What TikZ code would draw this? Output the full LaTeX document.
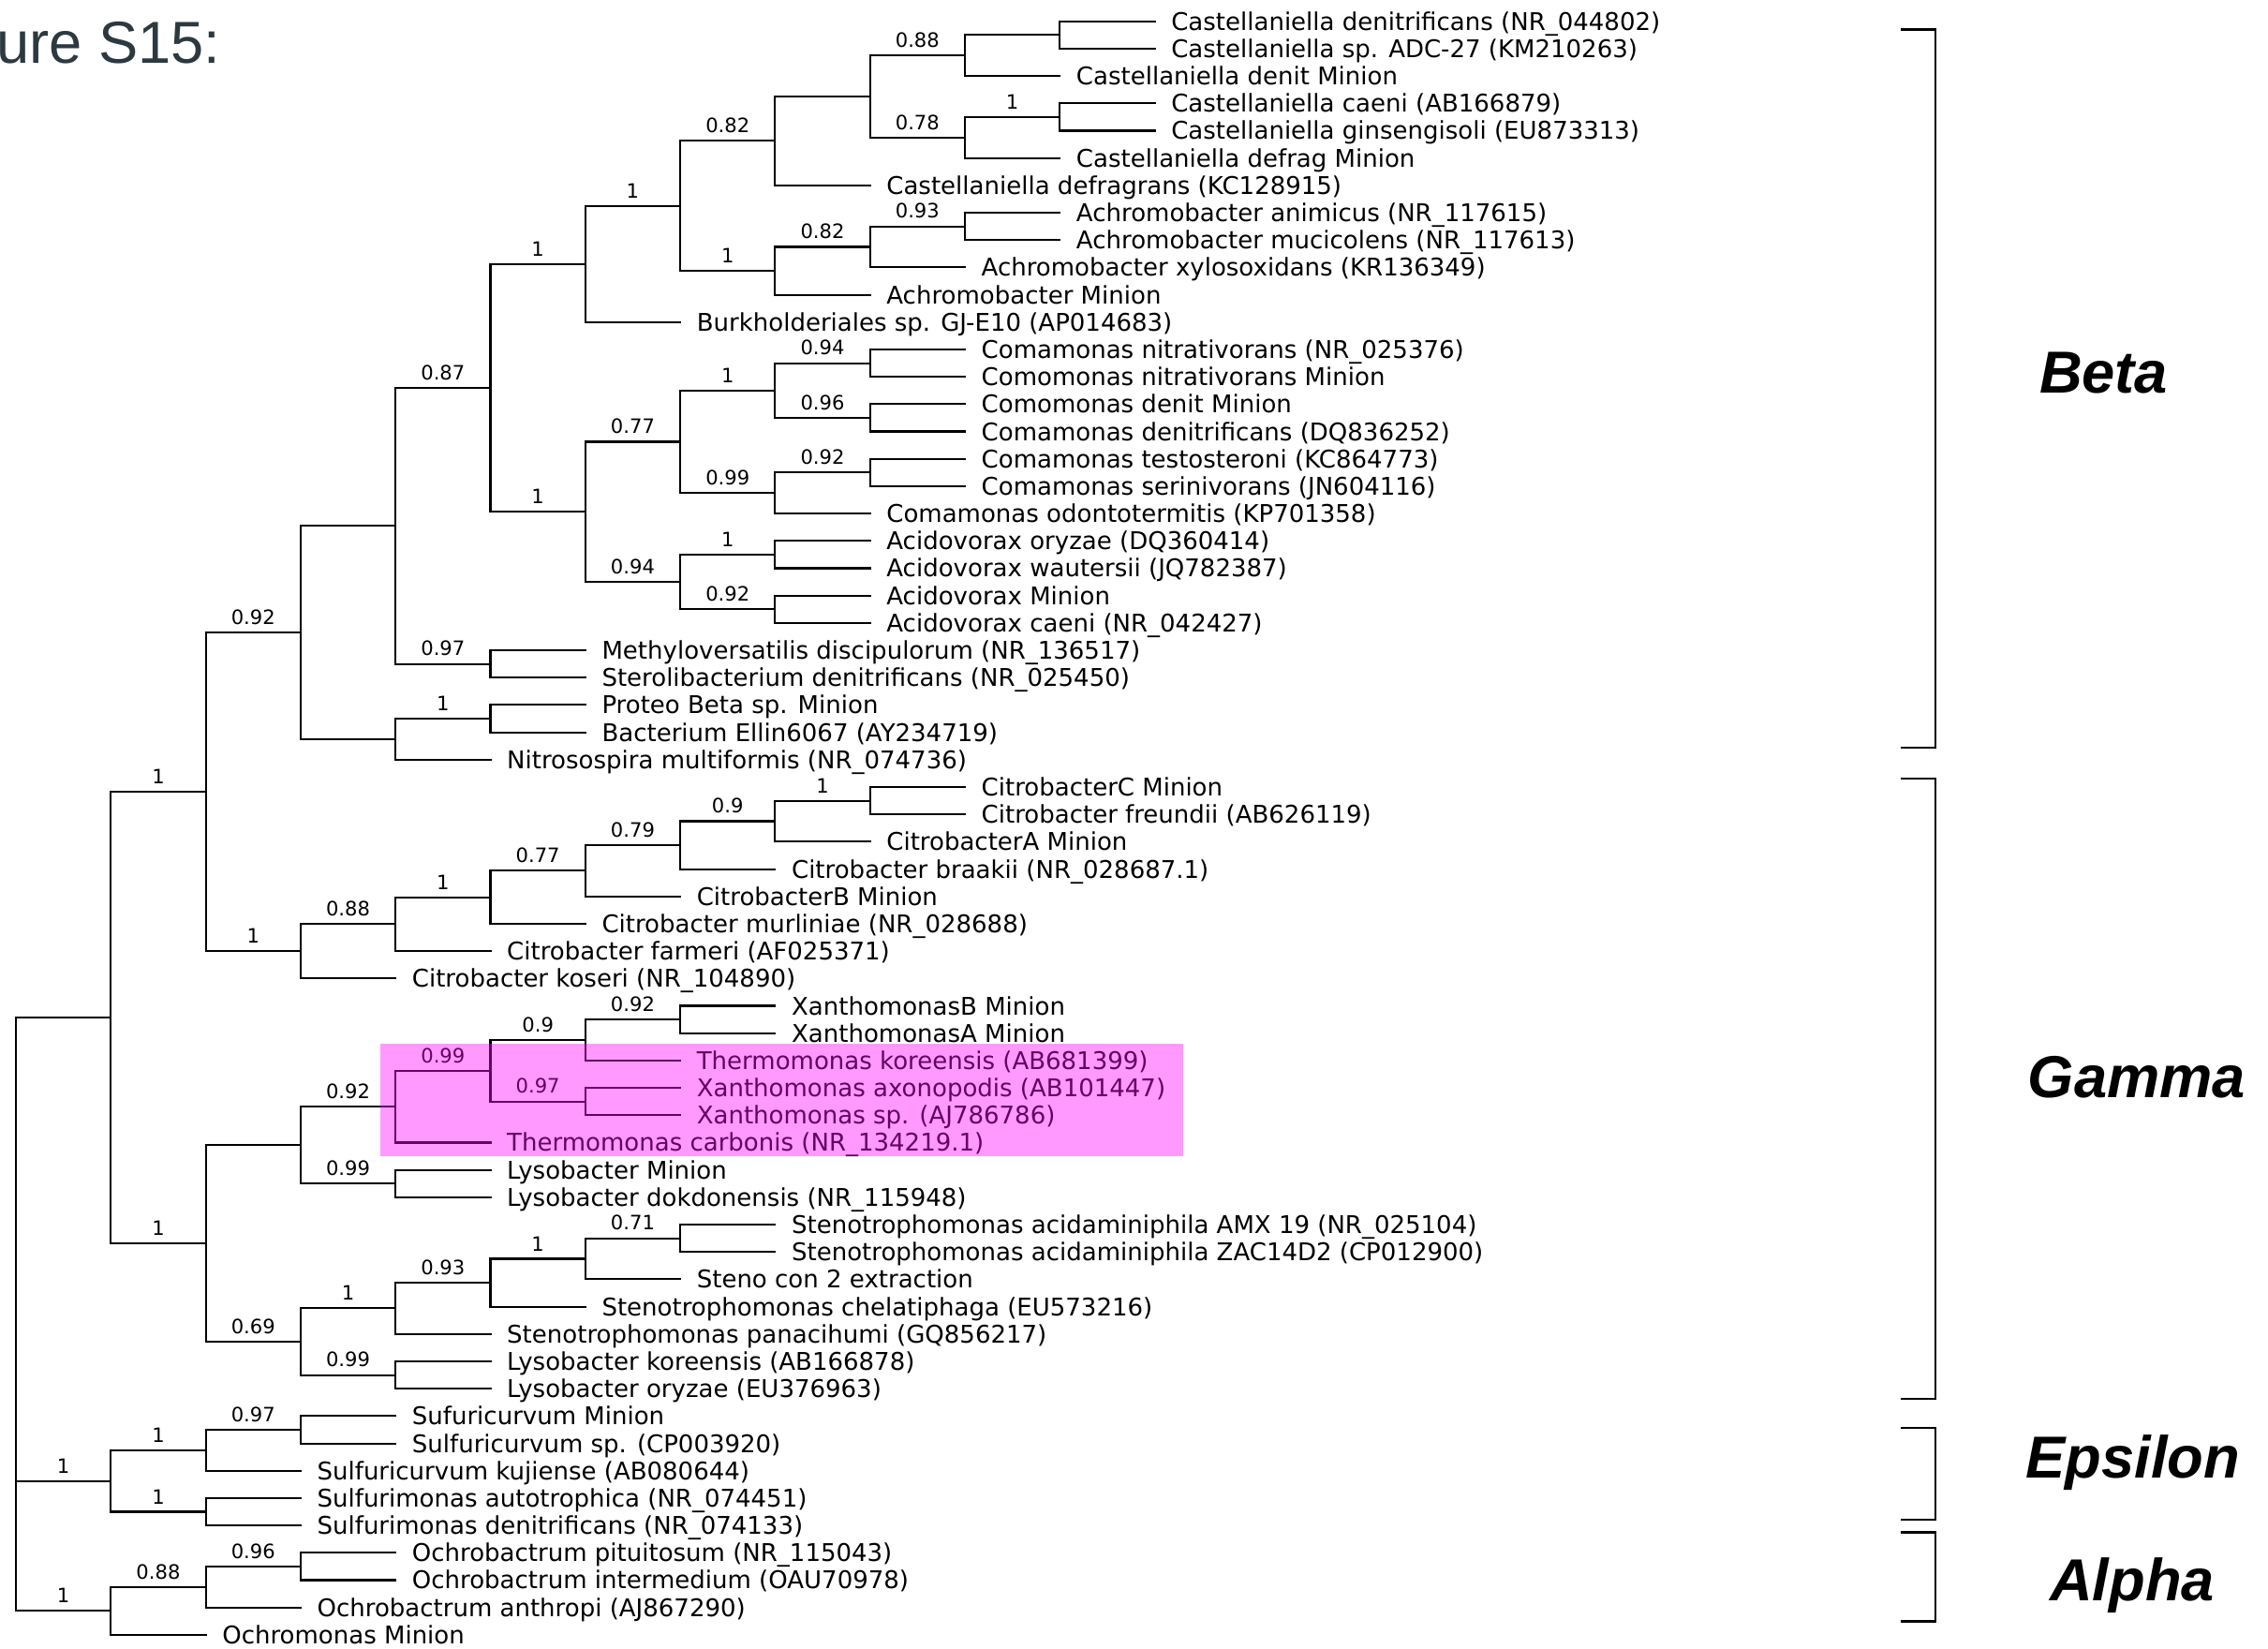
\documentclass[tikz,border=0pt]{standalone}
\usepackage{fontspec}
\setmainfont{Liberation Sans}
\newfontfamily\leaffont{DejaVu Sans}
\usepackage{xcolor}
\definecolor{titlegrey}{RGB}{45,57,64}
\definecolor{hilite}{RGB}{255,0,255}
\tikzset{
  leaf/.style={anchor=west, inner xsep=0.17cm, inner ysep=0pt, text height=5.4pt, text depth=0pt,
    font=\leaffont\fontsize{7.4}{8}\selectfont},
  bsl/.style={above=2.1pt, inner sep=0pt, font=\leaffont\fontsize{6}{7}\selectfont},
  branch/.style={draw, line width=0.6pt, line cap=rect},
  bracket/.style={draw, line width=0.8pt},
  clade/.style={anchor=base, inner sep=0pt, font=\bfseries\itshape\fontsize{18}{20}\selectfont}
}
\begin{document}
\begin{tikzpicture}[x=1.013cm, y=-0.2919cm]
          \useasboundingbox (-0.168,0.222) rectangle (23.732,60.517);
          \node[anchor=base east, inner sep=0pt, text=titlegrey, font=\fontsize{18}{20}\selectfont] (fig) at (2.162,2.55) {ure S15:};
          \begin{scope}[every node/.style={leaf}]
            \node (t1) at (12,1) {Castellaniella denitrificans (NR\_044802)};
            \node (t2) at (12,2) {Castellaniella sp. ADC-27 (KM210263)};
            \node (t3) at (11,3) {Castellaniella denit Minion};
            \node (t4) at (12,4) {Castellaniella caeni (AB166879)};
            \node (t5) at (12,5) {Castellaniella ginsengisoli (EU873313)};
            \node (t6) at (11,6) {Castellaniella defrag Minion};
            \node (t7) at (9,7) {Castellaniella defragrans (KC128915)};
            \node (t8) at (11,8) {Achromobacter animicus (NR\_117615)};
            \node (t9) at (11,9) {Achromobacter mucicolens (NR\_117613)};
            \node (t10) at (10,10) {Achromobacter xylosoxidans (KR136349)};
            \node (t11) at (9,11) {Achromobacter Minion};
            \node (t12) at (7,12) {Burkholderiales sp. GJ-E10 (AP014683)};
            \node (t13) at (10,13) {Comamonas nitrativorans (NR\_025376)};
            \node (t14) at (10,14) {Comomonas nitrativorans Minion};
            \node (t15) at (10,15) {Comomonas denit Minion};
            \node (t16) at (10,16) {Comamonas denitrificans (DQ836252)};
            \node (t17) at (10,17) {Comamonas testosteroni (KC864773)};
            \node (t18) at (10,18) {Comamonas serinivorans (JN604116)};
            \node (t19) at (9,19) {Comamonas odontotermitis (KP701358)};
            \node (t20) at (9,20) {Acidovorax oryzae (DQ360414)};
            \node (t21) at (9,21) {Acidovorax wautersii (JQ782387)};
            \node (t22) at (9,22) {Acidovorax Minion};
            \node (t23) at (9,23) {Acidovorax caeni (NR\_042427)};
            \node (t24) at (6,24) {Methyloversatilis discipulorum (NR\_136517)};
            \node (t25) at (6,25) {Sterolibacterium denitrificans (NR\_025450)};
            \node (t26) at (6,26) {Proteo Beta sp. Minion};
            \node (t27) at (6,27) {Bacterium Ellin6067 (AY234719)};
            \node (t28) at (5,28) {Nitrosospira multiformis (NR\_074736)};
            \node (t29) at (10,29) {CitrobacterC Minion};
            \node (t30) at (10,30) {Citrobacter freundii (AB626119)};
            \node (t31) at (9,31) {CitrobacterA Minion};
            \node (t32) at (8,32) {Citrobacter braakii (NR\_028687.1)};
            \node (t33) at (7,33) {CitrobacterB Minion};
            \node (t34) at (6,34) {Citrobacter murliniae (NR\_028688)};
            \node (t35) at (5,35) {Citrobacter farmeri (AF025371)};
            \node (t36) at (4,36) {Citrobacter koseri (NR\_104890)};
            \node (t37) at (8,37) {XanthomonasB Minion};
            \node (t38) at (8,38) {XanthomonasA Minion};
            \node (t39) at (7,39) {Thermomonas koreensis (AB681399)};
            \node (t40) at (7,40) {Xanthomonas axonopodis (AB101447)};
            \node (t41) at (7,41) {Xanthomonas sp. (AJ786786)};
            \node (t42) at (5,42) {Thermomonas carbonis (NR\_134219.1)};
            \node (t43) at (5,43) {Lysobacter Minion};
            \node (t44) at (5,44) {Lysobacter dokdonensis (NR\_115948)};
            \node (t45) at (8,45) {Stenotrophomonas acidaminiphila AMX 19 (NR\_025104)};
            \node (t46) at (8,46) {Stenotrophomonas acidaminiphila ZAC14D2 (CP012900)};
            \node (t47) at (7,47) {Steno con 2 extraction};
            \node (t48) at (6,48) {Stenotrophomonas chelatiphaga (EU573216)};
            \node (t49) at (5,49) {Stenotrophomonas panacihumi (GQ856217)};
            \node (t50) at (5,50) {Lysobacter koreensis (AB166878)};
            \node (t51) at (5,51) {Lysobacter oryzae (EU376963)};
            \node (t52) at (4,52) {Sufuricurvum Minion};
            \node (t53) at (4,53) {Sulfuricurvum sp. (CP003920)};
            \node (t54) at (3,54) {Sulfuricurvum kujiense (AB080644)};
            \node (t55) at (3,55) {Sulfurimonas autotrophica (NR\_074451)};
            \node (t56) at (3,56) {Sulfurimonas denitrificans (NR\_074133)};
            \node (t57) at (4,57) {Ochrobactrum pituitosum (NR\_115043)};
            \node (t58) at (4,58) {Ochrobactrum intermedium (OAU70978)};
            \node (t59) at (3,59) {Ochrobactrum anthropi (AJ867290)};
            \node (t60) at (2,60) {Ochromonas Minion};
          \end{scope}
          \coordinate (ca1) at (11,1.5);
          \coordinate (ca2) at (10,2.25);
          \coordinate (ca4) at (11,4.5);
          \coordinate (ca5) at (10,5.25);
          \coordinate (ca3) at (9,3.75);
          \coordinate (ca6) at (8,5.375);
          \coordinate (ac1) at (10,8.5);
          \coordinate (ac2) at (9,9.25);
          \coordinate (ac3) at (8,10.125);
          \coordinate (bu1) at (7,7.75);
          \coordinate (bu2) at (6,9.875);
          \coordinate (co1) at (9,13.5);
          \coordinate (co2) at (9,15.5);
          \coordinate (co3) at (8,14.5);
          \coordinate (co4) at (9,17.5);
          \coordinate (co5) at (8,18.25);
          \coordinate (co6) at (7,16.375);
          \coordinate (av1) at (8,20.5);
          \coordinate (av2) at (8,22.5);
          \coordinate (av3) at (7,21.5);
          \coordinate (cv1) at (6,18.9375);
          \coordinate (be1) at (5,14.406);
          \coordinate (me1) at (5,24.5);
          \coordinate (be2) at (4,19.453);
          \coordinate (pb1) at (5,26.5);
          \coordinate (pb2) at (4,27.25);
          \coordinate (bet) at (3,23.352);
          \coordinate (ci1) at (9,29.5);
          \coordinate (ci2) at (8,30.25);
          \coordinate (ci3) at (7,31.125);
          \coordinate (ci4) at (6,32.0625);
          \coordinate (ci5) at (5,33.031);
          \coordinate (ci6) at (4,34.016);
          \coordinate (ci7) at (3,35.008);
          \coordinate (bg) at (2,29.18);
          \coordinate (xa1) at (7,37.5);
          \coordinate (xa2) at (6,38.25);
          \coordinate (xa3) at (6,40.5);
          \coordinate (xa4) at (5,39.375);
          \coordinate (xa5) at (4,40.6875);
          \coordinate (ly1) at (4,43.5);
          \coordinate (xl) at (3,42.094);
          \coordinate (st1) at (7,45.5);
          \coordinate (st2) at (6,46.25);
          \coordinate (st3) at (5,47.125);
          \coordinate (st4) at (4,48.0625);
          \coordinate (ly2) at (4,50.5);
          \coordinate (sl) at (3,49.281);
          \coordinate (xs) at (2,45.6875);
          \coordinate (prot) at (1,37.434);
          \coordinate (su1) at (3,52.5);
          \coordinate (su2) at (2,53.25);
          \coordinate (su3) at (2,55.5);
          \coordinate (eps) at (1,54.375);
          \coordinate (oc1) at (3,57.5);
          \coordinate (oc2) at (2,58.25);
          \coordinate (alp) at (1,59.125);
          \coordinate (root) at (0,48.28);
          \begin{scope}[every path/.style={branch}]
            \draw (ca1) |- (t1);
            \draw (ca1) |- (t2);
            \draw (ca2) |- (ca1);
            \draw (ca2) |- (t3);
            \draw (ca4) |- (t4);
            \draw (ca4) |- (t5);
            \draw (ca5) |- node[bsl, pos=0.75]{1} (ca4);
            \draw (ca5) |- (t6);
            \draw (ca3) |- node[bsl, pos=0.75]{0.88} (ca2);
            \draw (ca3) |- node[bsl, pos=0.75]{0.78} (ca5);
            \draw (ca6) |- (ca3);
            \draw (ca6) |- (t7);
            \draw (ac1) |- (t8);
            \draw (ac1) |- (t9);
            \draw (ac2) |- node[bsl, pos=0.75]{0.93} (ac1);
            \draw (ac2) |- (t10);
            \draw (ac3) |- node[bsl, pos=0.75]{0.82} (ac2);
            \draw (ac3) |- (t11);
            \draw (bu1) |- node[bsl, pos=0.75]{0.82} (ca6);
            \draw (bu1) |- node[bsl, pos=0.75]{1} (ac3);
            \draw (bu2) |- node[bsl, pos=0.75]{1} (bu1);
            \draw (bu2) |- (t12);
            \draw (co1) |- (t13);
            \draw (co1) |- (t14);
            \draw (co2) |- (t15);
            \draw (co2) |- (t16);
            \draw (co3) |- node[bsl, pos=0.75]{0.94} (co1);
            \draw (co3) |- node[bsl, pos=0.75]{0.96} (co2);
            \draw (co4) |- (t17);
            \draw (co4) |- (t18);
            \draw (co5) |- node[bsl, pos=0.75]{0.92} (co4);
            \draw (co5) |- (t19);
            \draw (co6) |- node[bsl, pos=0.75]{1} (co3);
            \draw (co6) |- node[bsl, pos=0.75]{0.99} (co5);
            \draw (av1) |- (t20);
            \draw (av1) |- (t21);
            \draw (av2) |- (t22);
            \draw (av2) |- (t23);
            \draw (av3) |- node[bsl, pos=0.75]{1} (av1);
            \draw (av3) |- node[bsl, pos=0.75]{0.92} (av2);
            \draw (cv1) |- node[bsl, pos=0.75]{0.77} (co6);
            \draw (cv1) |- node[bsl, pos=0.75]{0.94} (av3);
            \draw (be1) |- node[bsl, pos=0.75]{1} (bu2);
            \draw (be1) |- node[bsl, pos=0.75]{1} (cv1);
            \draw (me1) |- (t24);
            \draw (me1) |- (t25);
            \draw (be2) |- node[bsl, pos=0.75]{0.87} (be1);
            \draw (be2) |- node[bsl, pos=0.75]{0.97} (me1);
            \draw (pb1) |- (t26);
            \draw (pb1) |- (t27);
            \draw (pb2) |- node[bsl, pos=0.75]{1} (pb1);
            \draw (pb2) |- (t28);
            \draw (bet) |- (be2);
            \draw (bet) |- (pb2);
            \draw (ci1) |- (t29);
            \draw (ci1) |- (t30);
            \draw (ci2) |- node[bsl, pos=0.75]{1} (ci1);
            \draw (ci2) |- (t31);
            \draw (ci3) |- node[bsl, pos=0.75]{0.9} (ci2);
            \draw (ci3) |- (t32);
            \draw (ci4) |- node[bsl, pos=0.75]{0.79} (ci3);
            \draw (ci4) |- (t33);
            \draw (ci5) |- node[bsl, pos=0.75]{0.77} (ci4);
            \draw (ci5) |- (t34);
            \draw (ci6) |- node[bsl, pos=0.75]{1} (ci5);
            \draw (ci6) |- (t35);
            \draw (ci7) |- node[bsl, pos=0.75]{0.88} (ci6);
            \draw (ci7) |- (t36);
            \draw (bg) |- node[bsl, pos=0.75]{0.92} (bet);
            \draw (bg) |- node[bsl, pos=0.75]{1} (ci7);
            \draw (xa1) |- (t37);
            \draw (xa1) |- (t38);
            \draw (xa2) |- node[bsl, pos=0.75]{0.92} (xa1);
            \draw (xa2) |- (t39);
            \draw (xa3) |- (t40);
            \draw (xa3) |- (t41);
            \draw (xa4) |- node[bsl, pos=0.75]{0.9} (xa2);
            \draw (xa4) |- node[bsl, pos=0.75]{0.97} (xa3);
            \draw (xa5) |- node[bsl, pos=0.75]{0.99} (xa4);
            \draw (xa5) |- (t42);
            \draw (ly1) |- (t43);
            \draw (ly1) |- (t44);
            \draw (xl) |- node[bsl, pos=0.75]{0.92} (xa5);
            \draw (xl) |- node[bsl, pos=0.75]{0.99} (ly1);
            \draw (st1) |- (t45);
            \draw (st1) |- (t46);
            \draw (st2) |- node[bsl, pos=0.75]{0.71} (st1);
            \draw (st2) |- (t47);
            \draw (st3) |- node[bsl, pos=0.75]{1} (st2);
            \draw (st3) |- (t48);
            \draw (st4) |- node[bsl, pos=0.75]{0.93} (st3);
            \draw (st4) |- (t49);
            \draw (ly2) |- (t50);
            \draw (ly2) |- (t51);
            \draw (sl) |- node[bsl, pos=0.75]{1} (st4);
            \draw (sl) |- node[bsl, pos=0.75]{0.99} (ly2);
            \draw (xs) |- (xl);
            \draw (xs) |- node[bsl, pos=0.75]{0.69} (sl);
            \draw (prot) |- node[bsl, pos=0.75]{1} (bg);
            \draw (prot) |- node[bsl, pos=0.75]{1} (xs);
            \draw (su1) |- (t52);
            \draw (su1) |- (t53);
            \draw (su2) |- node[bsl, pos=0.75]{0.97} (su1);
            \draw (su2) |- (t54);
            \draw (su3) |- (t55);
            \draw (su3) |- (t56);
            \draw (eps) |- node[bsl, pos=0.75]{1} (su2);
            \draw (eps) |- node[bsl, pos=0.75]{1} (su3);
            \draw (oc1) |- (t57);
            \draw (oc1) |- (t58);
            \draw (oc2) |- node[bsl, pos=0.75]{0.96} (oc1);
            \draw (oc2) |- (t59);
            \draw (alp) |- node[bsl, pos=0.75]{0.88} (oc2);
            \draw (alp) |- (t60);
            \draw (root) |- (prot);
            \draw (root) |- node[bsl, pos=0.75]{1} (eps);
            \draw (root) |- node[bsl, pos=0.75]{1} (alp);
          \end{scope}
          \fill[hilite, fill opacity=0.4] (3.84,38.39) rectangle (12.30,42.5);
          \begin{scope}[every path/.style={bracket}]
            \draw (19.862,1.305) -| (20.227,27.56) -- (19.862,27.56);
            \draw (19.862,28.69) -| (20.227,51.37) -- (19.862,51.37);
            \draw (19.862,52.43) -| (20.227,55.79) -- (19.862,55.79);
            \draw (19.862,56.24) -| (20.227,59.52) -- (19.862,59.52);
          \end{scope}
          \node[clade] (lbeta) at (22.0,14.61) {Beta};
          \node[clade] (lgamma) at (22.35,40.37) {Gamma};
          \node[clade] (lepsilon) at (22.31,54.28) {Epsilon};
          \node[clade] (lalpha) at (22.30,58.74) {Alpha};
        \end{tikzpicture}
\end{document}
